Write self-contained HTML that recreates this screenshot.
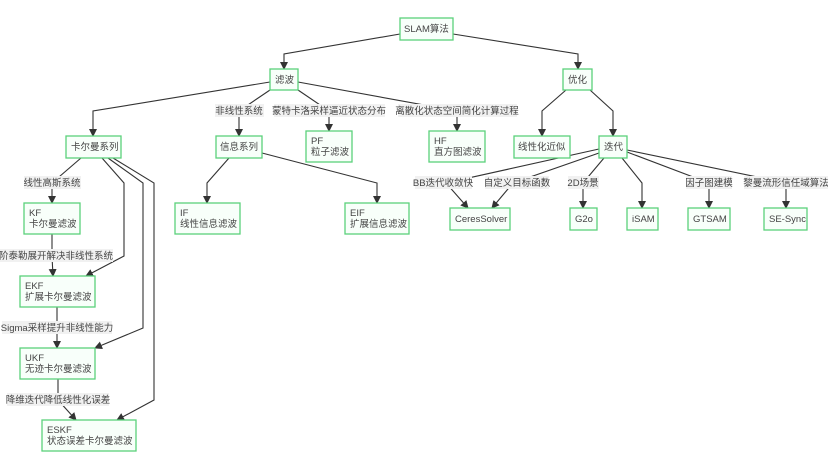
<!DOCTYPE html>
<html><head><meta charset="utf-8"><style>
html,body{margin:0;padding:0;background:#fff;}
svg{display:block;font-family:"Liberation Sans","Noto Sans CJK SC",sans-serif;}
.b{fill:#f8fffa;stroke:#5ad17b;stroke-width:1.3;}
.t{font-size:9.5px;fill:#444;}
.e{fill:none;stroke:#333;stroke-width:1.1;}
.lb{fill:#f1f1f1;}
.l{font-size:9.5px;fill:#444;text-anchor:middle;}
</style></head><body>
<svg width="828" height="461" viewBox="0 0 828 461" xmlns="http://www.w3.org/2000/svg">
<defs><marker id="a" markerWidth="8" markerHeight="8" refX="7" refY="4" orient="auto" markerUnits="userSpaceOnUse"><path d="M0,0 L8,4 L0,8 z" fill="#333"/></marker></defs>
<g class="e" marker-end="url(#a)">
<polyline points="400,34 284,54 284,69"/>
<polyline points="453,34 578,54 578,69"/>
<polyline points="270,82 93,111 93,136"/>
<polyline points="270,90 239,111 239,136"/>
<polyline points="298,90 329,111 329,131"/>
<polyline points="298,82 457,111 457,131"/>
<polyline points="566,90 542,111 542,136"/>
<polyline points="590,90 613,111 613,136"/>
<polyline points="81,158 52,183 52,203"/>
<polyline points="102,158 124,183 124,256 86,276"/>
<polyline points="108,158 143,183 143,328 95,348"/>
<polyline points="113,158 154,183 154,400 117,420"/>
<polyline points="52,234 52,256 53,276"/>
<polyline points="57,307 57,348"/>
<polyline points="58,379 58,400 76,420"/>
<polyline points="229,158 207,183 207,203"/>
<polyline points="262,153 377,183 377,203"/>
<polyline points="599,149 446,183 468,208"/>
<polyline points="599,153 513,183 492,208"/>
<polyline points="604,158 583,183 583,208"/>
<polyline points="622,158 642,183 642,208"/>
<polyline points="627,152 709,183 709,208"/>
<polyline points="627,150 786,183 786,208"/>
</g>
<g>
<rect class="lb" x="215" y="104" width="49" height="13"/><text class="l" x="239" y="114">非线性系统</text>
<rect class="lb" x="274" y="104" width="111" height="13"/><text class="l" x="329" y="114">蒙特卡洛采样逼近状态分布</text>
<rect class="lb" x="398" y="104" width="119" height="13"/><text class="l" x="457" y="114">离散化状态空间简化计算过程</text>
<rect class="lb" x="24" y="176" width="57" height="13"/><text class="l" x="52" y="186">线性高斯系统</text>
<rect class="lb" x="0" y="249" width="113" height="13"/><text class="l" x="56" y="259">阶泰勒展开解决非线性系统</text>
<rect class="lb" x="2" y="321" width="110" height="13"/><text class="l" x="57" y="331">Sigma采样提升非线性能力</text>
<rect class="lb" x="7" y="393" width="102" height="13"/><text class="l" x="58" y="403">降维迭代降低线性化误差</text>
<rect class="lb" x="415" y="176" width="57" height="13"/><text class="l" x="443" y="186">BB迭代收敛快</text>
<rect class="lb" x="485" y="176" width="64" height="13"/><text class="l" x="517" y="186">自定义目标函数</text>
<rect class="lb" x="568" y="176" width="31" height="13"/><text class="l" x="583" y="186">2D场景</text>
<rect class="lb" x="686" y="176" width="46" height="13"/><text class="l" x="709" y="186">因子图建模</text>
<rect class="lb" x="744" y="176" width="84" height="13"/><text class="l" x="786" y="186">黎曼流形信任域算法</text>
</g>
<g>
<rect class="b" x="400" y="18" width="53" height="22"/><text class="t" x="404" y="32">SLAM算法</text>
<rect class="b" x="270" y="69" width="28" height="21"/><text class="t" x="275" y="83">滤波</text>
<rect class="b" x="563" y="69" width="29" height="21"/><text class="t" x="568" y="83">优化</text>
<rect class="b" x="66" y="136" width="55" height="22"/><text class="t" x="71" y="150">卡尔曼系列</text>
<rect class="b" x="216" y="136" width="46" height="22"/><text class="t" x="220" y="150">信息系列</text>
<rect class="b" x="306" y="131" width="46" height="31"/><text class="t" x="311" y="144">PF</text><text class="t" x="311" y="155">粒子滤波</text>
<rect class="b" x="429" y="131" width="56" height="31"/><text class="t" x="434" y="144">HF</text><text class="t" x="434" y="155">直方图滤波</text>
<rect class="b" x="514" y="136" width="56" height="22"/><text class="t" x="518" y="150">线性化近似</text>
<rect class="b" x="599" y="136" width="28" height="22"/><text class="t" x="604" y="150">迭代</text>
<rect class="b" x="24" y="203" width="56" height="31"/><text class="t" x="29" y="216">KF</text><text class="t" x="29" y="227">卡尔曼滤波</text>
<rect class="b" x="175" y="203" width="65" height="31"/><text class="t" x="180" y="216">IF</text><text class="t" x="180" y="227">线性信息滤波</text>
<rect class="b" x="345" y="203" width="64" height="31"/><text class="t" x="350" y="216">EIF</text><text class="t" x="350" y="227">扩展信息滤波</text>
<rect class="b" x="450" y="208" width="60" height="22"/><text class="t" x="455" y="222">CeresSolver</text>
<rect class="b" x="570" y="208" width="27" height="22"/><text class="t" x="575" y="222">G2o</text>
<rect class="b" x="627" y="208" width="31" height="22"/><text class="t" x="632" y="222">iSAM</text>
<rect class="b" x="688" y="208" width="42" height="22"/><text class="t" x="693" y="222">GTSAM</text>
<rect class="b" x="764" y="208" width="43" height="22"/><text class="t" x="769" y="222">SE-Sync</text>
<rect class="b" x="20" y="276" width="75" height="31"/><text class="t" x="25" y="289">EKF</text><text class="t" x="25" y="300">扩展卡尔曼滤波</text>
<rect class="b" x="20" y="348" width="75" height="31"/><text class="t" x="25" y="361">UKF</text><text class="t" x="25" y="372">无迹卡尔曼滤波</text>
<rect class="b" x="42" y="420" width="94" height="31"/><text class="t" x="47" y="433">ESKF</text><text class="t" x="47" y="444">状态误差卡尔曼滤波</text>
</g>
</svg>
</body></html>
